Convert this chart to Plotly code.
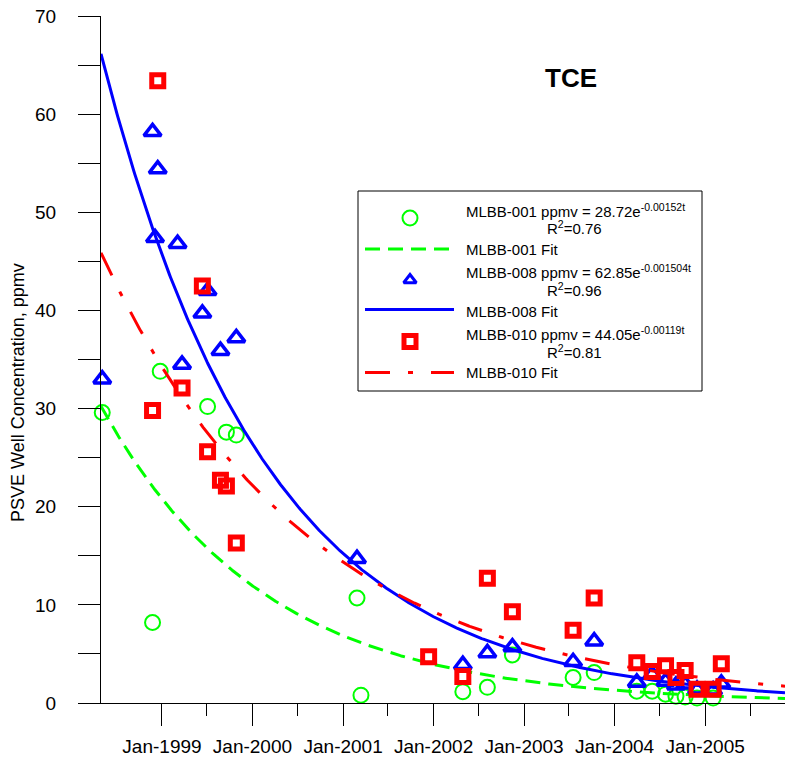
import numpy as np
import pandas as pd
import plotly.graph_objects as go

FONT = "Liberation Sans, Arial, sans-serif"

# ---------------- data ----------------
mlbb001_dates = ["1998-05-05", "1998-11-24", "1998-12-25", "1999-07-04", "1999-09-18",
                 "1999-10-28", "2001-02-26", "2001-03-14", "2002-04-29", "2002-08-06",
                 "2002-11-15", "2003-07-18", "2003-10-11", "2004-03-31", "2004-06-01",
                 "2004-07-25", "2004-09-05", "2004-10-12", "2004-11-29", "2005-02-02"]
mlbb001_ppmv = [29.6, 8.2, 33.8, 30.2, 27.6,
                27.3, 10.7, 0.8, 1.15, 1.6,
                4.9, 2.6, 3.1, 1.2, 1.2,
                0.9, 0.7, 0.6, 0.5, 0.5]

mlbb008_dates = ["1998-05-05", "1998-11-24", "1998-12-04", "1998-12-15", "1999-03-05",
                 "1999-03-23", "1999-06-13", "1999-07-04", "1999-08-25", "1999-10-28",
                 "2001-02-26", "2002-04-29", "2002-08-06", "2002-11-15", "2003-07-18",
                 "2003-10-11", "2004-03-31", "2004-06-01", "2004-07-25", "2004-09-05",
                 "2004-10-12", "2004-11-29", "2005-02-02", "2005-03-07"]
mlbb008_ppmv = [33.0, 58.2, 47.4, 54.4, 46.8,
                34.5, 39.7, 42.0, 35.9, 37.2,
                14.7, 3.9, 5.1, 5.7, 4.2,
                6.3, 2.1, 2.9, 2.2, 1.8,
                1.9, 1.4, 1.3, 2.0]

mlbb010_dates = ["1998-11-24", "1998-12-15", "1999-03-23", "1999-06-13", "1999-07-04",
                 "1999-08-25", "1999-09-18", "1999-10-28", "2001-12-12", "2002-04-29",
                 "2002-08-06", "2002-11-15", "2003-07-18", "2003-10-11", "2004-03-31",
                 "2004-06-01", "2004-07-25", "2004-09-05", "2004-10-12", "2004-11-29",
                 "2005-02-02", "2005-03-07"]
mlbb010_ppmv = [29.8, 63.4, 32.1, 42.5, 25.6,
                22.7, 22.1, 16.3, 4.7, 2.7,
                12.7, 9.3, 7.4, 10.7, 4.1,
                3.2, 3.8, 2.6, 3.3, 1.4,
                1.4, 4.0]

# exponential fits as stated in the legend: ppmv = A * exp(-k t), t in days
fit_A = {"MLBB-001": 28.72, "MLBB-008": 62.85, "MLBB-010": 44.05}
fit_k = {"MLBB-001": 0.00152, "MLBB-008": 0.001504, "MLBB-010": 0.00119}
fit_r2 = {"MLBB-001": "0.76", "MLBB-008": "0.96", "MLBB-010": "0.81"}
fit_k_text = {"MLBB-001": "-0.00152t", "MLBB-008": "-0.001504t", "MLBB-010": "-0.00119t"}
fit_t0 = "1998-06-03"

x_range = ["1998-04-30", "2005-11-19"]
y_range = [0, 70]
tick_dates = ["1999-01-01", "2000-01-01", "2001-01-01", "2002-01-01",
              "2003-01-01", "2004-01-01", "2005-01-01"]
tick_labels = ["Jan-1999", "Jan-2000", "Jan-2001", "Jan-2002",
               "Jan-2003", "Jan-2004", "Jan-2005"]
minor_tick_dates = ["1999-07-01", "2000-07-01", "2001-07-01", "2002-07-01",
                    "2003-07-01", "2004-07-01", "2005-07-01"]

# ---------------- styles ----------------
GREEN, BLUE, RED = "#00FF00", "#0000FF", "#FF0000"
DASH_GREEN = "15px,8px"
DASH_RED = "25px,18px,5px,18px"

fig = go.Figure()

fit_dates = pd.date_range(x_range[0], x_range[1], freq="4D")
t_days = (fit_dates - pd.Timestamp(fit_t0)).days.values.astype(float)


def fit_curve(name):
    return fit_A[name] * np.exp(-fit_k[name] * t_days)


fig.add_trace(go.Scatter(
    x=mlbb001_dates, y=mlbb001_ppmv, mode="markers", cliponaxis=False, showlegend=False,
    marker=dict(symbol="circle-open", size=15, color=GREEN, line=dict(color=GREEN, width=2))))
fig.add_trace(go.Scatter(
    x=fit_dates, y=fit_curve("MLBB-001"), mode="lines", showlegend=False,
    line=dict(color=GREEN, width=3, dash=DASH_GREEN)))
fig.add_trace(go.Scatter(
    x=mlbb008_dates, y=mlbb008_ppmv, mode="markers", cliponaxis=False, showlegend=False,
    marker=dict(symbol="triangle-up-open", size=15, color=BLUE, line=dict(color=BLUE, width=3.5))))
fig.add_trace(go.Scatter(
    x=fit_dates, y=fit_curve("MLBB-008"), mode="lines", showlegend=False,
    line=dict(color=BLUE, width=3)))
fig.add_trace(go.Scatter(
    x=mlbb010_dates, y=mlbb010_ppmv, mode="markers", cliponaxis=False, showlegend=False,
    marker=dict(symbol="square-open", size=12, color=RED, line=dict(color=RED, width=5))))
fig.add_trace(go.Scatter(
    x=fit_dates, y=fit_curve("MLBB-010"), mode="lines", showlegend=False,
    line=dict(color=RED, width=3, dash=DASH_RED)))

# ---------------- legend drawn in a pixel-space overlay ----------------
LX0, LX1 = 365, 454     # line sample extent
MX = 410                # marker sample x
TX = 464                # text x
RX = 545                # R^2 text x

legend_rows = [
    ("marker", "MLBB-001", 218, 210, 227),
    ("line", "MLBB-001", 249, 249, None),
    ("marker", "MLBB-008", 280, 271.5, 289.5),
    ("line", "MLBB-008", 309.5, 311, None),
    ("marker", "MLBB-010", 341.5, 333.5, 351.5),
    ("line", "MLBB-010", 372.5, 372.5, None),
]
marker_style = {
    "MLBB-001": dict(symbol="circle-open", size=15, color=GREEN, line=dict(color=GREEN, width=2)),
    "MLBB-008": dict(symbol="triangle-up-open", size=11, color=BLUE, line=dict(color=BLUE, width=3)),
    "MLBB-010": dict(symbol="square-open", size=12, color=RED, line=dict(color=RED, width=5)),
}
line_style = {
    "MLBB-001": dict(color=GREEN, width=3, dash=DASH_GREEN),
    "MLBB-008": dict(color=BLUE, width=3),
    "MLBB-010": dict(color=RED, width=3, dash=DASH_RED),
}

annotations = []
for kind, name, sy, ty, ry in legend_rows:
    if kind == "marker":
        fig.add_trace(go.Scatter(x=[MX], y=[sy], xaxis="x3", yaxis="y3", mode="markers",
                                 cliponaxis=False, showlegend=False, marker=marker_style[name]))
        txt = f"{name} ppmv = {fit_A[name]:.2f}e<sup>{fit_k_text[name]}</sup>"
        annotations.append(dict(x=TX, y=ty, xref="x3", yref="y3", text=txt, showarrow=False,
                                xanchor="left", yanchor="middle", font=dict(size=15)))
        annotations.append(dict(x=RX, y=ry, xref="x3", yref="y3",
                                text=f"R<sup>2</sup>={fit_r2[name]}", showarrow=False,
                                xanchor="left", yanchor="middle", font=dict(size=15)))
    else:
        fig.add_trace(go.Scatter(x=[LX0, LX1], y=[sy, sy], xaxis="x3", yaxis="y3", mode="lines",
                                 cliponaxis=False, showlegend=False, line=line_style[name]))
        annotations.append(dict(x=TX, y=ty, xref="x3", yref="y3", text=f"{name} Fit",
                                showarrow=False, xanchor="left", yanchor="middle",
                                font=dict(size=15)))

annotations.append(dict(x=571, y=78, xref="x3", yref="y3", text="<b>TCE</b>", showarrow=False,
                        xanchor="center", yanchor="middle", font=dict(size=26)))
annotations.append(dict(x=(18 - 101) / 684, y=(703 - 393) / 687, xref="paper", yref="paper",
                        text="PSVE Well Concentration, ppmv", textangle=-90, showarrow=False,
                        xanchor="center", yanchor="middle", font=dict(size=18)))

shapes = [dict(type="rect", xref="x3", yref="y3", x0=358, x1=702, y0=191, y1=391,
               line=dict(color="black", width=1), fillcolor="rgba(0,0,0,0)", layer="below")]

fig.update_layout(
    width=785, height=759,
    margin=dict(l=101, r=0, t=16, b=56, autoexpand=False),
    plot_bgcolor="white", paper_bgcolor="white",
    font=dict(family=FONT, color="black"),
    showlegend=False,
    annotations=annotations,
    shapes=shapes,
    xaxis=dict(type="date", range=x_range, tickmode="array", tickvals=tick_dates,
               ticktext=tick_labels, ticks="outside", ticklen=22, tickwidth=1,
               tickcolor="black", showline=True, linecolor="black", linewidth=1,
               showgrid=False, zeroline=False, tickfont=dict(size=19),
               ticklabelstandoff=4, automargin=False,
               minor=dict(tickmode="array", tickvals=minor_tick_dates, ticks="outside",
                          ticklen=12, tickwidth=1, tickcolor="black", showgrid=False)),
    yaxis=dict(range=y_range, tickmode="linear", tick0=0, dtick=10, ticks="outside",
               ticklen=22, tickwidth=1, tickcolor="black", showline=True,
               linecolor="black", linewidth=1, showgrid=False, zeroline=False,
               tickfont=dict(size=19), ticklabelstandoff=18, automargin=False,
               minor=dict(dtick=5, ticks="outside", ticklen=22, tickwidth=1,
                          tickcolor="black", showgrid=False)),
    xaxis3=dict(overlaying="x", anchor="y3", range=[101, 785], visible=False, automargin=False),
    yaxis3=dict(overlaying="y", anchor="x3", range=[703, 16], visible=False, automargin=False),
)

fig.write_html("out.html", config={"displayModeBar": False},
               post_script="document.body.style.margin='0';")
